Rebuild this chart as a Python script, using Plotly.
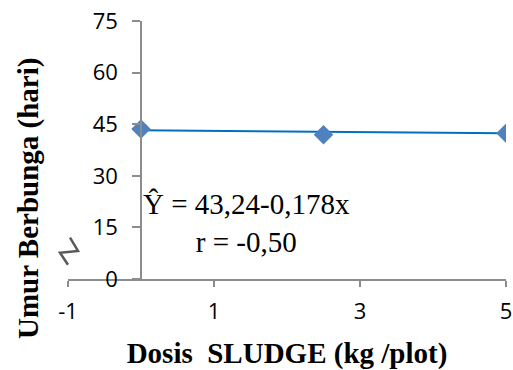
import plotly.graph_objects as go

# Observed flowering age per sludge dose
dosis = [0, 2.5, 5]
umur_berbunga = [43.6, 41.9, 42.4]

# Fitted regression: Y = a + b x
intercept = 43.24
slope = -0.178
trend_x = [0, 5]
trend_y = [intercept + slope * x for x in trend_x]

x_ticks = [-1, 1, 3, 5]
y_ticks = [0, 15, 30, 45, 60, 75]

axis_grey = "#8c8c8c"

fig = go.Figure()

fig.add_trace(go.Scatter(
    x=trend_x, y=trend_y, mode="lines",
    line=dict(color="#0070C0", width=2),
    hoverinfo="skip", showlegend=False,
))
fig.add_trace(go.Scatter(
    x=dosis, y=umur_berbunga, mode="markers",
    marker=dict(symbol="diamond", size=15, color="#4F81BD",
                line=dict(width=0)),
    showlegend=False,
))

fig.update_layout(
    width=513, height=370,
    margin=dict(l=68, r=7, t=21, b=91),
    paper_bgcolor="white", plot_bgcolor="white",
    font=dict(family="Open Sans", size=22, color="black"),
    xaxis=dict(
        range=[-1, 5], tickvals=x_ticks, ticktext=[str(v) for v in x_ticks],
        showgrid=False, zeroline=False, automargin=False,
        showline=True, linecolor=axis_grey, linewidth=1.5,
        ticks="outside", ticklen=6, tickcolor=axis_grey, tickwidth=1.5,
        ticklabelstandoff=6,
        title=dict(text="Dosis\u00a0 SLUDGE (kg /plot)",
                   font=dict(family="Liberation Serif", size=29,
                             color="black", weight="bold"),
                   standoff=20),
    ),
    yaxis=dict(
        range=[0, 75], tickvals=y_ticks,
        showgrid=False, zeroline=False, automargin=False,
        anchor="free", position=1 / 6,
        showline=True, linecolor=axis_grey, linewidth=1.5,
        ticks="outside", ticklen=8, tickcolor=axis_grey, tickwidth=1.5,
        ticklabelstandoff=10,
    ),
    annotations=[
        dict(
            text="Umur Berbunga (hari)", textangle=-90,
            xref="paper", yref="paper", x=-0.0913, y=0.31,
            xanchor="center", yanchor="middle", showarrow=False,
            font=dict(family="Liberation Serif", size=29, color="black",
                      weight="bold"),
        ),
        dict(
            text="\u0176 = 43,24-0,178x<br>r = -0,50",
            xref="x", yref="y", x=1.45, y=16.2,
            xanchor="center", yanchor="middle", showarrow=False,
            align="center",
            font=dict(family="Liberation Serif", size=29, color="black"),
        ),
    ],
    shapes=[
        # axis-break mark on the value axis
        dict(
            type="path", xref="paper", yref="paper",
            path="M 0.0046 0.160 L 0.0228 0.109 L -0.0183 0.102 L 0.0 0.055",
            line=dict(color="#595959", width=2.5),
        ),
    ],
)

fig.write_html("out.html")
